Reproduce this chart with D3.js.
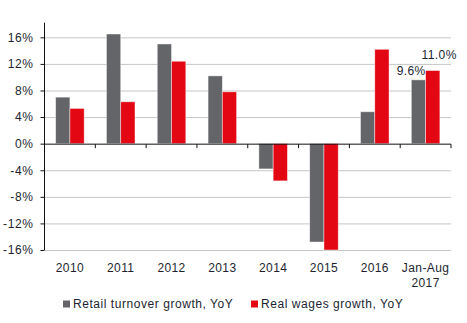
<!DOCTYPE html>
<html><head><meta charset="utf-8">
<script src="https://cdn.jsdelivr.net/npm/d3@7"></script>
<style>
body{margin:0;background:#fff;}
text{font-family:"Liberation Sans",Arial,sans-serif;fill:#221f30;}
</style></head>
<body><svg id="c" width="467" height="323"></svg>
<script>
const categories = ["2010","2011","2012","2013","2014","2015","2016","Jan-Aug\n2017"];
const seriesNames = ["Retail turnover growth, YoY","Real wages growth, YoY"];
const retail = [7.0,16.5,15.0,10.2,-3.8,-14.8,4.8,9.6];
const wages  = [5.3,6.3,12.4,7.8,-5.6,-16.0,14.2,11.0];
const yTicks = [-16,-12,-8,-4,0,4,8,12,16];
const colors = ["#636569","#e30613"];
const labelled = [{s:0,i:7,text:"9.6%"},{s:1,i:7,text:"11.0%"}];

const svg = d3.select("#c");
const x0 = d3.scaleBand().domain(categories).range([44.5,451]).padding(0);
const x1 = d3.scaleBand().domain([0,1]).range([0,x0.bandwidth()]).paddingInner(0).paddingOuter(0.78);
const y = d3.scaleLinear().domain([-16,18.2]).range([250,22.7]);

// gridlines
svg.append("g").selectAll("line").data(yTicks.filter(d=>d!==0)).join("line")
  .attr("x1",44.5).attr("x2",451).attr("y1",d=>y(d)+0.5).attr("y2",d=>y(d)+0.5)
  .attr("stroke","#c6c6c6").attr("stroke-width",1);

// bars
const data = categories.map((c,i)=>({c,vals:[retail[i],wages[i]]}));
const g = svg.append("g");
data.forEach(d=>{
  d.vals.forEach((v,s)=>{
    g.append("rect")
      .attr("x",x0(d.c)+x1(s)).attr("width",x1.bandwidth())
      .attr("y",y(Math.max(0,v))).attr("height",Math.abs(y(v)-y(0)))
      .attr("fill",colors[s]).attr("stroke","rgba(255,255,255,0.55)").attr("stroke-width",0.8);
  });
});

// y axis
const yAxis = d3.axisLeft(y).tickValues(yTicks).tickSize(4).tickFormat(d=>d+"%");
const ya = svg.append("g").attr("transform","translate(44.5,0)").call(yAxis);
ya.select(".domain").attr("stroke","#111").attr("d","M0,"+y(18.2)+"V"+y(-16));
ya.selectAll(".tick line").attr("stroke","#111");
ya.selectAll(".tick text").attr("x",-11).attr("font-size","12px").attr("fill","#221f30")
  .style("font-family","'Liberation Sans',Arial,sans-serif").attr("letter-spacing","0.6px");

// x axis at zero
const xAxis = d3.axisBottom(x0).tickSize(0).tickFormat("");
const xa = svg.append("g").attr("transform","translate(0,"+(y(0)+0.5)+")").call(xAxis);
xa.select(".domain").attr("stroke","#111").attr("d","M44.5,0H451");
xa.selectAll(".tick").remove();
xa.selectAll("line.sep").data(categories).join("line").attr("class","sep")
  .attr("x1",d=>x0(d)+x0.bandwidth()).attr("x2",d=>x0(d)+x0.bandwidth())
  .attr("y1",0).attr("y2",4).attr("stroke","#111");

// category labels
const cl = svg.append("g");
categories.forEach(c=>{
  const lines = c.split("\n");
  const t = cl.append("text").attr("text-anchor","middle").attr("font-size","12px").attr("letter-spacing","0.4px")
    .attr("x",x0(c)+x0.bandwidth()/2).attr("y",271.5);
  lines.forEach((l,k)=>t.append("tspan").attr("x",x0(c)+x0.bandwidth()/2).attr("dy",k?15:0).text(l));
});

// value labels
labelled.forEach(L=>{
  const v = L.s===0?retail[L.i]:wages[L.i];
  const bx = x0(categories[L.i])+x1(L.s);
  svg.append("text").attr("font-size","12px").attr("letter-spacing","0.4px")
    .attr("text-anchor",L.s===0?"end":"start")
    .attr("x",L.s===0?bx+x1.bandwidth():bx-4)
    .attr("y",L.s===0?y(v)-5:y(v)-12).text(L.text);
});

// legend
const leg = svg.append("g");
const legX = [63,251];
seriesNames.forEach((n,s)=>{
  leg.append("rect").attr("x",legX[s]).attr("y",300.5).attr("width",7).attr("height",7).attr("fill",colors[s]);
  leg.append("text").attr("x",legX[s]+10).attr("y",307.5).attr("font-size","12px").attr("letter-spacing","0.55px").text(n);
});
</script></body></html>
